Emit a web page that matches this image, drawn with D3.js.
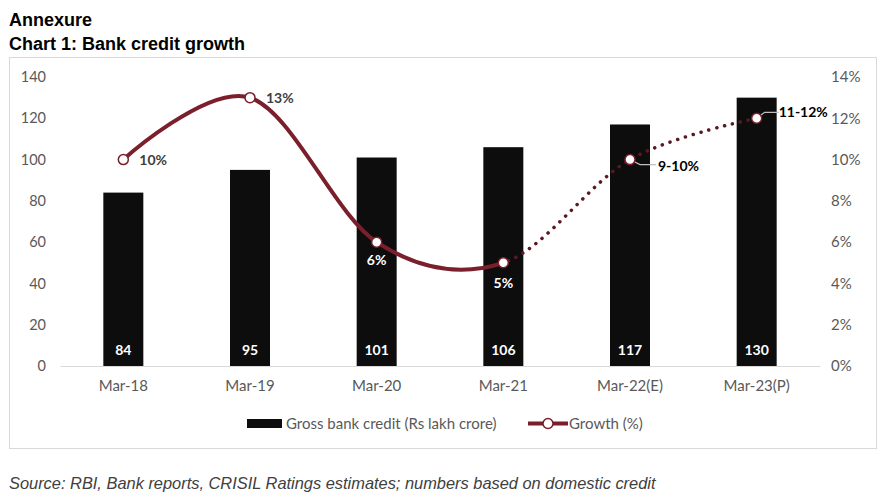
<!DOCTYPE html>
<html><head><meta charset="utf-8">
<script src="https://cdn.jsdelivr.net/npm/d3@7"></script>
<style>body{margin:0;background:#fff}svg{display:block}</style>
</head><body>
<svg id="c" width="886" height="497"></svg>
<script>
const categories = ["Mar-18","Mar-19","Mar-20","Mar-21","Mar-22(E)","Mar-23(P)"];
const credit = [84, 95, 101, 106, 117, 130];
const growth = [10, 13, 6, 5, 10, 12];
const growthLabels = ["10%","13%","6%","5%","9-10%","11-12%"];
const leftTicks = [0,20,40,60,80,100,120,140];
const rightTicks = [0,2,4,6,8,10,12,14];

const svg = d3.select("#c");
const axisFont = "Lato, 'Open Sans', sans-serif";
const maroon = "#7a1f2b";

// titles
svg.append("text").attr("x",9).attr("y",26).attr("font-family","'Liberation Sans', Arial, sans-serif")
  .attr("font-weight","bold").attr("font-size",18).attr("fill","#000").text("Annexure");
svg.append("text").attr("x",9).attr("y",50).attr("font-family","'Liberation Sans', Arial, sans-serif")
  .attr("font-weight","bold").attr("font-size",18).attr("fill","#000").text("Chart 1: Bank credit growth");

// frame
svg.append("rect").attr("x",9.5).attr("y",57.5).attr("width",867).attr("height",391)
  .attr("fill","none").attr("stroke","#d9d9d9");

const x = d3.scaleBand().domain(categories).range([60,820]);
const y = d3.scaleLinear().domain([0,140]).range([366,77]);
const y2 = d3.scaleLinear().domain([0,14]).range([366,77]);
const cx = d => x(d) + x.bandwidth()/2;
const barW = 40;

// left axis
const la = svg.append("g").attr("transform","translate(46,0)")
  .call(d3.axisLeft(y).tickValues(leftTicks).tickSize(0).tickPadding(0));
la.select(".domain").remove();
la.selectAll("text").attr("font-family",axisFont).attr("font-size",14.5).attr("fill","#595959");

// right axis
const ra = svg.append("g").attr("transform","translate(831,0)")
  .call(d3.axisRight(y2).tickValues(rightTicks).tickSize(0).tickPadding(0).tickFormat(d=>d+"%"));
ra.select(".domain").remove();
ra.selectAll("text").attr("font-family",axisFont).attr("font-size",15).attr("fill","#595959");

// x axis
const xa = svg.append("g").attr("transform","translate(0,366)")
  .call(d3.axisBottom(x).tickSize(0).tickPadding(14));
xa.select(".domain").attr("stroke","#d9d9d9");
xa.selectAll("text").attr("font-family",axisFont).attr("font-size",15).attr("fill","#595959");

// bars
svg.append("g").selectAll("rect").data(categories).join("rect")
  .attr("x",d=>cx(d)-barW/2).attr("width",barW)
  .attr("y",(d,i)=>y(credit[i])).attr("height",(d,i)=>y(0)-y(credit[i]))
  .attr("fill","#0d0d0d");
svg.append("g").selectAll("text").data(categories).join("text")
  .attr("x",d=>cx(d)).attr("y",355).attr("text-anchor","middle")
  .attr("font-family",axisFont).attr("font-weight","bold").attr("font-size",14).attr("fill","#fff")
  .text((d,i)=>credit[i]);

// line
const pts = categories.map((d,i)=>[cx(d), y2(growth[i])]);
const lineGen = d3.line().curve(d3.curveCardinal.tension(0));
const splitX = pts[3][0];
const defs = svg.append("defs");
defs.append("clipPath").attr("id","clipSolid").append("rect").attr("x",0).attr("y",0).attr("width",splitX).attr("height",497);
defs.append("clipPath").attr("id","clipDot").append("rect").attr("x",splitX).attr("y",0).attr("width",886-splitX).attr("height",497);
svg.append("path").attr("d",lineGen(pts)).attr("fill","none").attr("stroke",maroon)
  .attr("stroke-width",4).attr("clip-path","url(#clipSolid)");
svg.append("path").attr("d",lineGen(pts)).attr("fill","none").attr("stroke","#5c1822")
  .attr("stroke-width",3.5).attr("stroke-linecap","round").attr("stroke-dasharray","0.1 8")
  .attr("clip-path","url(#clipDot)");

// leader lines
const leaders = [null,null,null,null,[[0,0],[10,5],[26,5]],[[0,0],[8,-6],[22,-6]]];
leaders.forEach((l,i)=>{ if(!l) return;
  svg.append("path").attr("d",d3.line()(l.map(p=>[pts[i][0]+p[0],pts[i][1]+p[1]])))
    .attr("fill","none").attr("stroke","#bfbfbf").attr("stroke-width",1.2);
});

// markers
svg.append("g").selectAll("circle").data(pts).join("circle")
  .attr("cx",d=>d[0]).attr("cy",d=>d[1]).attr("r",5)
  .attr("fill","#fff").attr("stroke",maroon).attr("stroke-width",1.5);

// growth labels
const lblOff = [[16,5,"start","#404040"],[16,5,"start","#404040"],[0,23,"middle","#fff"],[0,25,"middle","#fff"],[28,11,"start","#000"],[22,-1,"start","#000"]];
svg.append("g").selectAll("text").data(pts).join("text")
  .attr("x",(d,i)=>d[0]+lblOff[i][0]).attr("y",(d,i)=>d[1]+lblOff[i][1])
  .attr("text-anchor",(d,i)=>lblOff[i][2]).attr("fill",(d,i)=>lblOff[i][3])
  .attr("font-family",axisFont).attr("font-weight","bold").attr("font-size",14)
  .text((d,i)=>growthLabels[i]);

// legend
svg.append("rect").attr("x",247).attr("y",419).attr("width",35).attr("height",9).attr("fill","#0d0d0d");
svg.append("text").attr("x",286).attr("y",428.5).attr("font-family",axisFont).attr("font-size",15)
  .attr("fill","#595959").text("Gross bank credit (Rs lakh crore)");
svg.append("line").attr("x1",528).attr("x2",568).attr("y1",423.5).attr("y2",423.5)
  .attr("stroke",maroon).attr("stroke-width",4);
svg.append("circle").attr("cx",548).attr("cy",423.5).attr("r",5).attr("fill","#fff")
  .attr("stroke",maroon).attr("stroke-width",1.5);
svg.append("text").attr("x",569).attr("y",428.5).attr("font-family",axisFont).attr("font-size",15)
  .attr("fill","#595959").text("Growth (%)");

// source
svg.append("text").attr("x",9).attr("y",489).attr("font-family","'Liberation Sans', Arial, sans-serif")
  .attr("font-style","italic").attr("font-size",16.4).attr("fill","#404040")
  .text("Source: RBI, Bank reports, CRISIL Ratings estimates; numbers based on domestic credit");
</script>
</body></html>
